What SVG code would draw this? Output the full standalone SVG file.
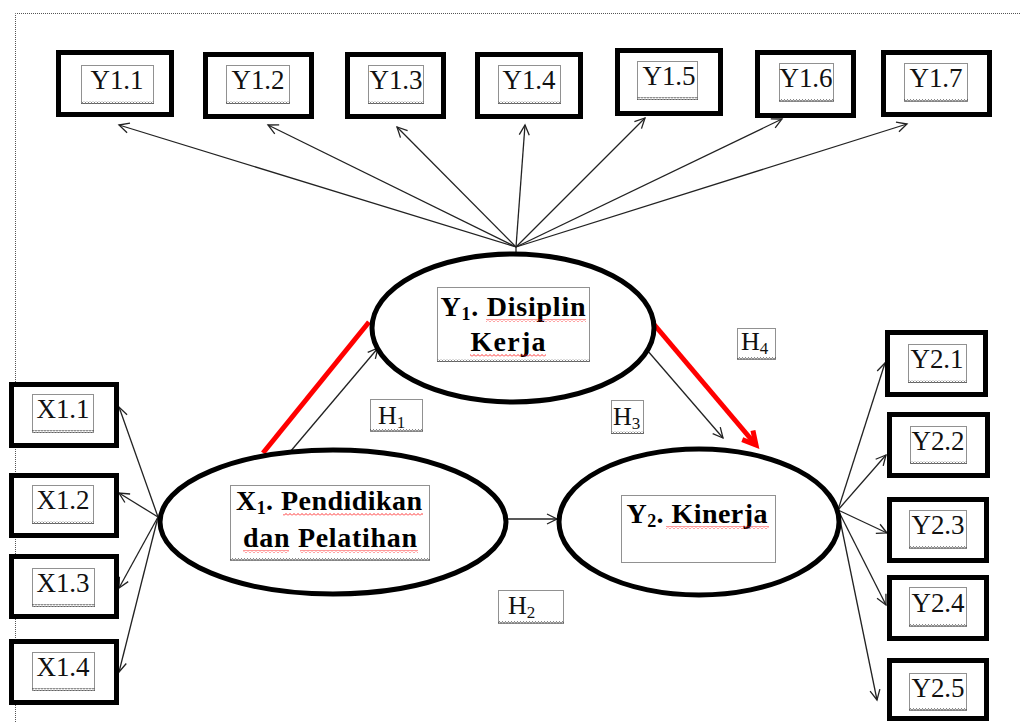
<svg xmlns="http://www.w3.org/2000/svg" width="1021" height="722" viewBox="0 0 1021 722">
<style>
.box{fill:#fff;stroke:#000;stroke-width:5}
.lbl{fill:none;stroke:#222;stroke-width:1;stroke-dasharray:1 1}
.ell{fill:#fff;stroke:#000;stroke-width:5}
.ind{font-family:"Liberation Serif",serif;font-size:27px;fill:#111;text-anchor:middle}
.lat{font-family:"Liberation Serif",serif;font-weight:bold;font-size:28px;fill:#000;text-anchor:middle}
.hyp{font-family:"Liberation Serif",serif;font-size:26px;fill:#111}
.con{stroke:#222;stroke-width:1.3;fill:none}
.red{stroke:#f00;stroke-width:5;fill:none}
.wv{fill:url(#wavyR)}
.wb{fill:url(#wavyB)}
</style>
<defs>
<marker id="ah" markerUnits="userSpaceOnUse" markerWidth="14" markerHeight="14" refX="11" refY="6" orient="auto">
<path d="M1,1 L11,6 L1,11" fill="none" stroke="#222" stroke-width="1.3"/>
</marker>
<marker id="ahr" markerUnits="userSpaceOnUse" markerWidth="24" markerHeight="24" refX="15" refY="9" orient="auto">
<path d="M2,2 L15,9 L2,16" fill="none" stroke="#f00" stroke-width="5"/>
</marker>
<pattern id="wavyR" patternUnits="userSpaceOnUse" width="4" height="3">
<path d="M0,2.5 L2,0.5 L4,2.5" fill="none" stroke="#f00" stroke-width="0.8"/>
</pattern>
<pattern id="wavyB" patternUnits="userSpaceOnUse" width="3" height="3">
<path d="M0,2.5 L1.5,0.5 L3,2.5" fill="none" stroke="#444" stroke-width="0.8"/>
</pattern>
</defs>
<rect x="0" y="0" width="1021" height="722" fill="#fff"/>
<path d="M15.5,722 L15.5,13.5 L1021,13.5" fill="none" stroke="#555" stroke-width="1" stroke-dasharray="1 1"/>

<g id="connectors">
<line class="con" x1="516" y1="247" x2="516" y2="254"/>
<line class="con" x1="516" y1="247" x2="119" y2="125" marker-end="url(#ah)"/>
<line class="con" x1="516" y1="247" x2="268" y2="125" marker-end="url(#ah)"/>
<line class="con" x1="516" y1="247" x2="397" y2="127" marker-end="url(#ah)"/>
<line class="con" x1="516" y1="247" x2="525" y2="125" marker-end="url(#ah)"/>
<line class="con" x1="516" y1="247" x2="645" y2="118" marker-end="url(#ah)"/>
<line class="con" x1="516" y1="247" x2="782" y2="119" marker-end="url(#ah)"/>
<line class="con" x1="516" y1="247" x2="907" y2="124" marker-end="url(#ah)"/>
<line class="con" x1="290" y1="452" x2="378" y2="348" marker-end="url(#ah)"/>
<line class="red" x1="263" y1="453" x2="369" y2="322"/>
<line class="con" x1="647" y1="350" x2="723" y2="438" marker-end="url(#ah)"/>
<line class="red" x1="652" y1="322" x2="756" y2="445" marker-end="url(#ahr)"/>
<line class="con" x1="506" y1="519" x2="557" y2="519" marker-end="url(#ah)"/>
<line class="con" x1="158" y1="517" x2="119" y2="407" marker-end="url(#ah)"/>
<line class="con" x1="158" y1="517" x2="119" y2="493" marker-end="url(#ah)"/>
<line class="con" x1="158" y1="517" x2="119" y2="588" marker-end="url(#ah)"/>
<line class="con" x1="158" y1="517" x2="119" y2="672" marker-end="url(#ah)"/>
<line class="con" x1="838" y1="510" x2="885" y2="363" marker-end="url(#ah)"/>
<line class="con" x1="838" y1="510" x2="886" y2="455" marker-end="url(#ah)"/>
<line class="con" x1="838" y1="510" x2="887" y2="533" marker-end="url(#ah)"/>
<line class="con" x1="838" y1="510" x2="886" y2="605" marker-end="url(#ah)"/>
<line class="con" x1="838" y1="510" x2="877" y2="700" marker-end="url(#ah)"/>
</g>

<g id="Y1">
<ellipse class="ell" cx="513" cy="328" rx="141" ry="74"/>
<rect class="lbl" x="437.5" y="287.5" width="152" height="74"/>
<rect class="wb" x="437" y="359" width="153" height="3"/>
<text class="lat" x="513" y="316" textLength="145" lengthAdjust="spacing">Y<tspan font-size="18" dy="4">1</tspan><tspan dy="-4">.  Disiplin</tspan></text>
<text class="lat" x="508" y="351" textLength="75" lengthAdjust="spacing">Kerja</text>
<rect class="wv" x="486" y="319" width="100" height="3"/>
<rect class="wv" x="470" y="354" width="76" height="3"/>
</g>

<g id="X1">
<ellipse class="ell" cx="333" cy="522" rx="173" ry="72"/>
<rect class="lbl" x="230.5" y="485.5" width="199" height="75"/>
<rect class="wb" x="230" y="558" width="200" height="3"/>
<text class="lat" x="329" y="510" textLength="186" lengthAdjust="spacing">X<tspan font-size="18" dy="4">1</tspan><tspan dy="-4">.  Pendidikan</tspan></text>
<text class="lat" x="330" y="547" textLength="174" lengthAdjust="spacing">dan  Pelatihan</text>
<rect class="wv" x="283" y="513" width="140" height="3"/>
<rect class="wv" x="243" y="550" width="46" height="3"/>
<rect class="wv" x="300" y="550" width="118" height="3"/>
</g>

<g id="Y2">
<ellipse class="ell" cx="699" cy="522" rx="140" ry="73"/>
<rect class="lbl" x="621.5" y="495.5" width="154" height="67"/>
<text class="lat" x="697" y="523" textLength="141" lengthAdjust="spacing">Y<tspan font-size="18" dy="4">2</tspan><tspan dy="-4">.  Kinerja</tspan></text>
<rect class="wv" x="666" y="526" width="103" height="3"/>
</g>

<g id="H1">
<rect class="lbl" x="370.5" y="399.5" width="52" height="32"/>
<rect class="wb" x="370" y="429" width="53" height="3"/>
<text class="hyp" x="378" y="424">H<tspan font-size="17" dy="4">1</tspan></text>
</g>
<g id="H2">
<rect class="lbl" x="498.5" y="590.5" width="65" height="33"/>
<rect class="wb" x="498" y="621" width="66" height="3"/>
<text class="hyp" x="508" y="614">H<tspan font-size="17" dy="4">2</tspan></text>
</g>
<g id="H3">
<rect class="lbl" x="611.5" y="400.5" width="32" height="33"/>
<rect class="wb" x="611" y="431" width="33" height="3"/>
<text class="hyp" x="613" y="425">H<tspan font-size="17" dy="4">3</tspan></text>
</g>
<g id="H4">
<rect class="lbl" x="737.5" y="328.5" width="38" height="31"/>
<rect class="wb" x="737" y="357" width="39" height="3"/>
<text class="hyp" x="741" y="350">H<tspan font-size="17" dy="4">4</tspan></text>
</g>

<g id="Y1.1"><rect class="box" x="58.5" y="52.5" width="113" height="62"/><rect class="lbl" x="81.5" y="65.5" width="72" height="38"/><rect class="wb" x="81" y="101" width="73" height="3"/><text class="ind" x="117" y="89" textLength="53" lengthAdjust="spacing">Y1.1</text></g>
<g id="Y1.2"><rect class="box" x="205.5" y="54.5" width="106" height="62"/><rect class="lbl" x="226.5" y="65.5" width="63" height="38"/><rect class="wb" x="226" y="101" width="64" height="3"/><text class="ind" x="258" y="89" textLength="53" lengthAdjust="spacing">Y1.2</text></g>
<g id="Y1.3"><rect class="box" x="347.5" y="54.5" width="96" height="62"/><rect class="lbl" x="368.5" y="65.5" width="55" height="38"/><rect class="wb" x="368" y="101" width="56" height="3"/><text class="ind" x="396" y="89" textLength="53" lengthAdjust="spacing">Y1.3</text></g>
<g id="Y1.4"><rect class="box" x="477.5" y="54.5" width="103" height="62"/><rect class="lbl" x="498.5" y="65.5" width="62" height="38"/><rect class="wb" x="498" y="101" width="63" height="3"/><text class="ind" x="529" y="89" textLength="53" lengthAdjust="spacing">Y1.4</text></g>
<g id="Y1.5"><rect class="box" x="617.5" y="50.5" width="103" height="63"/><rect class="lbl" x="637.5" y="61.5" width="60" height="38"/><rect class="wb" x="637" y="97" width="61" height="3"/><text class="ind" x="669" y="85" textLength="53" lengthAdjust="spacing">Y1.5</text></g>
<g id="Y1.6"><rect class="box" x="757.5" y="52.5" width="96" height="63"/><rect class="lbl" x="779.5" y="63.5" width="54" height="38"/><rect class="wb" x="779" y="99" width="55" height="3"/><text class="ind" x="806" y="87" textLength="53" lengthAdjust="spacing">Y1.6</text></g>
<g id="Y1.7"><rect class="box" x="883.5" y="52.5" width="106" height="62"/><rect class="lbl" x="904.5" y="63.5" width="63" height="38"/><rect class="wb" x="904" y="99" width="64" height="3"/><text class="ind" x="936" y="87" textLength="53" lengthAdjust="spacing">Y1.7</text></g>

<g id="X1.1"><rect class="box" x="11.5" y="384.5" width="105" height="61"/><rect class="lbl" x="32.5" y="394.5" width="61" height="38"/><rect class="wb" x="32" y="430" width="62" height="3"/><text class="ind" x="63" y="418" textLength="53" lengthAdjust="spacing">X1.1</text></g>
<g id="X1.2"><rect class="box" x="11.5" y="475.5" width="105" height="60"/><rect class="lbl" x="32.5" y="485.5" width="61" height="38"/><rect class="wb" x="32" y="521" width="62" height="3"/><text class="ind" x="63" y="509" textLength="53" lengthAdjust="spacing">X1.2</text></g>
<g id="X1.3"><rect class="box" x="11.5" y="556.5" width="105" height="60"/><rect class="lbl" x="32.5" y="568.5" width="62" height="38"/><rect class="wb" x="32" y="604" width="63" height="3"/><text class="ind" x="63" y="592" textLength="53" lengthAdjust="spacing">X1.3</text></g>
<g id="X1.4"><rect class="box" x="11.5" y="641.5" width="105" height="61"/><rect class="lbl" x="32.5" y="652.5" width="62" height="38"/><rect class="wb" x="32" y="688" width="63" height="3"/><text class="ind" x="63" y="676" textLength="53" lengthAdjust="spacing">X1.4</text></g>

<g id="Y2.1"><rect class="box" x="887.5" y="332.5" width="98" height="62"/><rect class="lbl" x="908.5" y="344.5" width="58" height="38"/><rect class="wb" x="908" y="380" width="59" height="3"/><text class="ind" x="937" y="368" textLength="53" lengthAdjust="spacing">Y2.1</text></g>
<g id="Y2.2"><rect class="box" x="889.5" y="414.5" width="98" height="61"/><rect class="lbl" x="910.5" y="426.5" width="56" height="37"/><rect class="wb" x="910" y="461" width="57" height="3"/><text class="ind" x="938" y="450" textLength="53" lengthAdjust="spacing">Y2.2</text></g>
<g id="Y2.3"><rect class="box" x="889.5" y="499.5" width="97" height="61"/><rect class="lbl" x="909.5" y="510.5" width="57" height="38"/><rect class="wb" x="909" y="546" width="58" height="3"/><text class="ind" x="938" y="534" textLength="53" lengthAdjust="spacing">Y2.3</text></g>
<g id="Y2.4"><rect class="box" x="889.5" y="577.5" width="97" height="61"/><rect class="lbl" x="909.5" y="587.5" width="57" height="39"/><rect class="wb" x="909" y="624" width="58" height="3"/><text class="ind" x="938" y="612" textLength="53" lengthAdjust="spacing">Y2.4</text></g>
<g id="Y2.5"><rect class="box" x="889.5" y="660.5" width="97" height="58"/><rect class="lbl" x="909.5" y="673.5" width="57" height="37"/><rect class="wb" x="909" y="708" width="58" height="3"/><text class="ind" x="938" y="697" textLength="53" lengthAdjust="spacing">Y2.5</text></g>
</svg>
